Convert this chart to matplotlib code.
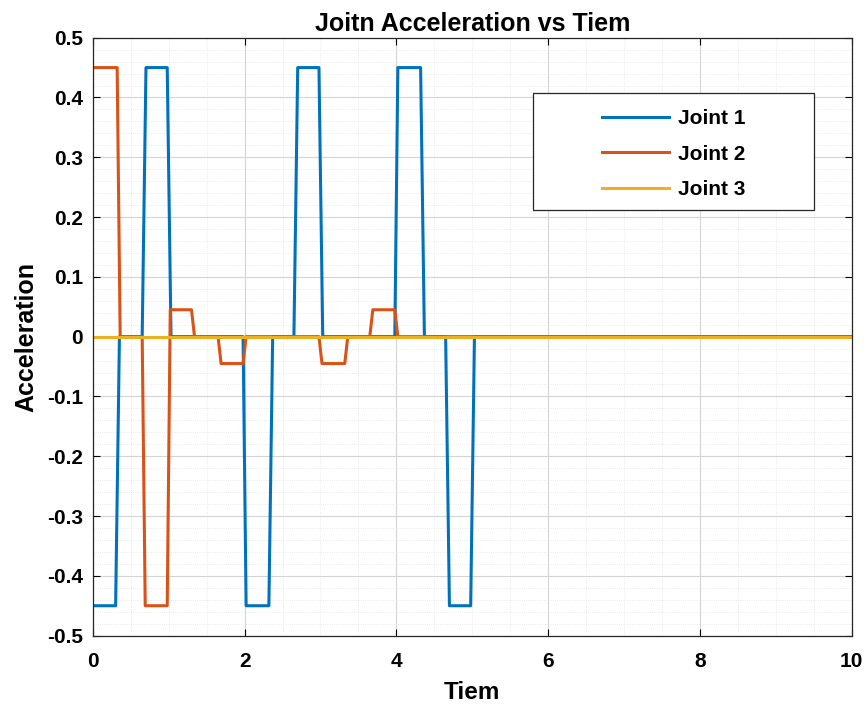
import numpy as np
import matplotlib
matplotlib.use('Agg')
import matplotlib.pyplot as plt
from matplotlib.ticker import MultipleLocator
from matplotlib.patches import Rectangle

# vertices (time, acceleration)
t1 = [0, 0.30, 0.35, 0.65, 0.70, 0.98, 1.03, 1.98, 2.02, 2.32, 2.37, 2.65, 2.70,
      2.98, 3.03, 3.98, 4.02, 4.32, 4.37, 4.65, 4.70, 4.98, 5.03, 10]
a1 = [-0.45, -0.45, 0, 0, 0.45, 0.45, 0, 0, -0.45, -0.45, 0, 0, 0.45,
      0.45, 0, 0, 0.45, 0.45, 0, 0, -0.45, -0.45, 0, 0]
t2 = [0, 0.32, 0.36, 0.65, 0.69, 0.98, 1.02, 1.30, 1.34, 1.65, 1.69, 1.98, 2.02,
      2.98, 3.02, 3.32, 3.36, 3.65, 3.69, 3.98, 4.02, 10]
a2 = [0.45, 0.45, 0, 0, -0.45, -0.45, 0.045, 0.045, 0, 0, -0.045, -0.045, 0,
      0, -0.045, -0.045, 0, 0, 0.045, 0.045, 0, 0]
t3 = [0, 10]
a3 = [0, 0]
labels = ['Joint 1', 'Joint 2', 'Joint 3']
colors = ['#0072BD', '#D95319', '#EDB120']
yticks = [-0.5, -0.4, -0.3, -0.2, -0.1, 0, 0.1, 0.2, 0.3, 0.4, 0.5]
yticklabels = ['-0.5', '-0.4', '-0.3', '-0.2', '-0.1', '0',
               '0.1', '0.2', '0.3', '0.4', '0.5']

plt.rcParams['font.family'] = ['Liberation Sans', 'DejaVu Sans']
plt.rcParams['font.weight'] = 'bold'

fig = plt.figure(figsize=(8.68, 7.11), dpi=100)
ax = fig.add_axes([0.107, 0.106, 0.874, 0.841])

for t, a, lab, c in zip([t1, t2, t3], [a1, a2, a3], labels, colors):
    ax.plot(t, a, color=c, lw=2.2, label=lab)

ax.set_xlim(0, 10)
ax.set_ylim(-0.5, 0.5)
ax.xaxis.set_major_locator(MultipleLocator(2))
ax.xaxis.set_minor_locator(MultipleLocator(0.5))
ax.yaxis.set_minor_locator(MultipleLocator(0.02))
ax.set_yticks(yticks)
ax.set_yticklabels(yticklabels)
ax.grid(which='major', color='#d4d4d4', lw=0.8)
ax.grid(which='minor', color='#e3e3e3', lw=0.6, ls=':')
ax.tick_params(which='both', direction='in', top=True, right=True, width=0.8)
ax.tick_params(which='minor', length=0)
ax.tick_params(which='major', length=5)
ax.tick_params(axis='x', labelsize=15, pad=12)
ax.tick_params(axis='y', labelsize=15, pad=7)
for lab in ax.get_xticklabels() + ax.get_yticklabels():
    lab.set_fontweight('bold')
for s in ax.spines.values():
    s.set_color('#262626')
    s.set_linewidth(0.9)

ax.set_title('Joitn Acceleration vs Tiem', fontsize=18, fontweight='bold', pad=5)
ax.set_xlabel('Tiem', fontsize=17.5, fontweight='bold', labelpad=7)
ax.set_ylabel('Acceleration', fontsize=18, fontweight='bold', labelpad=6)

# legend box drawn separately, entries centered inside it
ax.add_patch(Rectangle((0.58, 0.711), 0.371, 0.197, transform=ax.transAxes,
                       facecolor='white', edgecolor='#262626', lw=0.9, zorder=4))
leg = ax.legend(loc='center', bbox_to_anchor=(0.7655, 0.805), frameon=False,
                fontsize=15, handlelength=3.2, handletextpad=0.45,
                labelspacing=0.8, borderpad=0)
leg.set_zorder(5)
for txt in leg.get_texts():
    txt.set_fontweight('bold')

fig.savefig('out.png', dpi=100)
